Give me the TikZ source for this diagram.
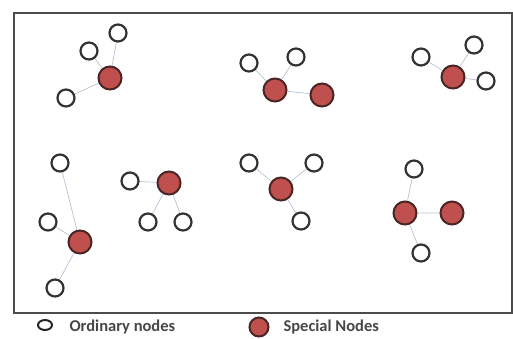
\documentclass[tikz,border=0pt]{standalone}
\usepackage{fontspec}
\setmainfont{Carlito}
\usetikzlibrary{shapes.geometric,backgrounds}
\begin{document}
\begin{tikzpicture}[x=1pt,y=-1pt,
  ord/.style={circle,draw=black!80,line width=2.2pt,fill=white,minimum size=17pt,inner sep=0pt},
  spec/.style={circle,draw=specedge,line width=2pt,fill=specred,minimum size=23pt,inner sep=0pt},
  link/.style={draw=linkblue,line width=0.7pt},
  legtext/.style={anchor=west,font=\bfseries\fontsize{16.5}{18}\selectfont,text=black!72}]
\definecolor{specred}{HTML}{C0504D}
\definecolor{specedge}{HTML}{4A2525}
\definecolor{linkblue}{HTML}{B4C4D6}
\useasboundingbox (0,0) rectangle (513,338);
\draw[black!70,line width=2.4pt] (14,13) rectangle (512,313);
% cluster 1
\node[spec] (s1) at (110,78) {};
\node[ord] (a1) at (118,33) {};
\node[ord] (a2) at (89,51) {};
\node[ord] (a3) at (66,98) {};
% cluster 2
\node[spec] (s2) at (275,90) {};
\node[spec] (s3) at (322,95) {};
\node[ord] (b1) at (249,63) {};
\node[ord] (b2) at (296,57) {};
% cluster 3
\node[spec] (s4) at (453,77) {};
\node[ord] (c1) at (421,57) {};
\node[ord] (c2) at (474,45) {};
\node[ord] (c3) at (486,81) {};
% cluster 4
\node[spec] (s5) at (80,242) {};
\node[ord] (d1) at (60,163) {};
\node[ord] (d2) at (48,222) {};
\node[ord] (d3) at (55,288) {};
% cluster 5
\node[spec] (s6) at (169,183) {};
\node[ord] (e1) at (130,181) {};
\node[ord] (e2) at (148,222) {};
\node[ord] (e3) at (183,222) {};
% cluster 6
\node[spec] (s7) at (281,189) {};
\node[ord] (f1) at (249,163) {};
\node[ord] (f2) at (314,163) {};
\node[ord] (f3) at (301,221) {};
% cluster 7
\node[spec] (s8) at (405,213) {};
\node[spec] (s9) at (452,213) {};
\node[ord] (g1) at (414,169) {};
\node[ord] (g2) at (421,253) {};
% links
\begin{scope}[on background layer]
\path[link] (s1)--(a1) (s1)--(a2) (s1)--(a3)
  (s2)--(b1) (s2)--(b2) (s2)--(s3)
  (s4)--(c1) (s4)--(c2) (s4)--(c3)
  (s5)--(d1) (s5)--(d2) (s5)--(d3)
  (s6)--(e1) (s6)--(e2) (s6)--(e3)
  (s7)--(f1) (s7)--(f2) (s7)--(f3)
  (s8)--(g1) (s8)--(s9) (s8)--(g2);
\end{scope}
% legend
\node[draw=black!85,line width=2pt,fill=white,ellipse,minimum width=14pt,minimum height=10pt,inner sep=0pt] (lo) at (45,325) {};
\node[legtext] (lot) at (66,327) {Ordinary nodes};
\node[spec,minimum size=19pt] (ls) at (259,327) {};
\node[legtext] (lst) at (280,327) {Special Nodes};
\end{tikzpicture}
\end{document}
